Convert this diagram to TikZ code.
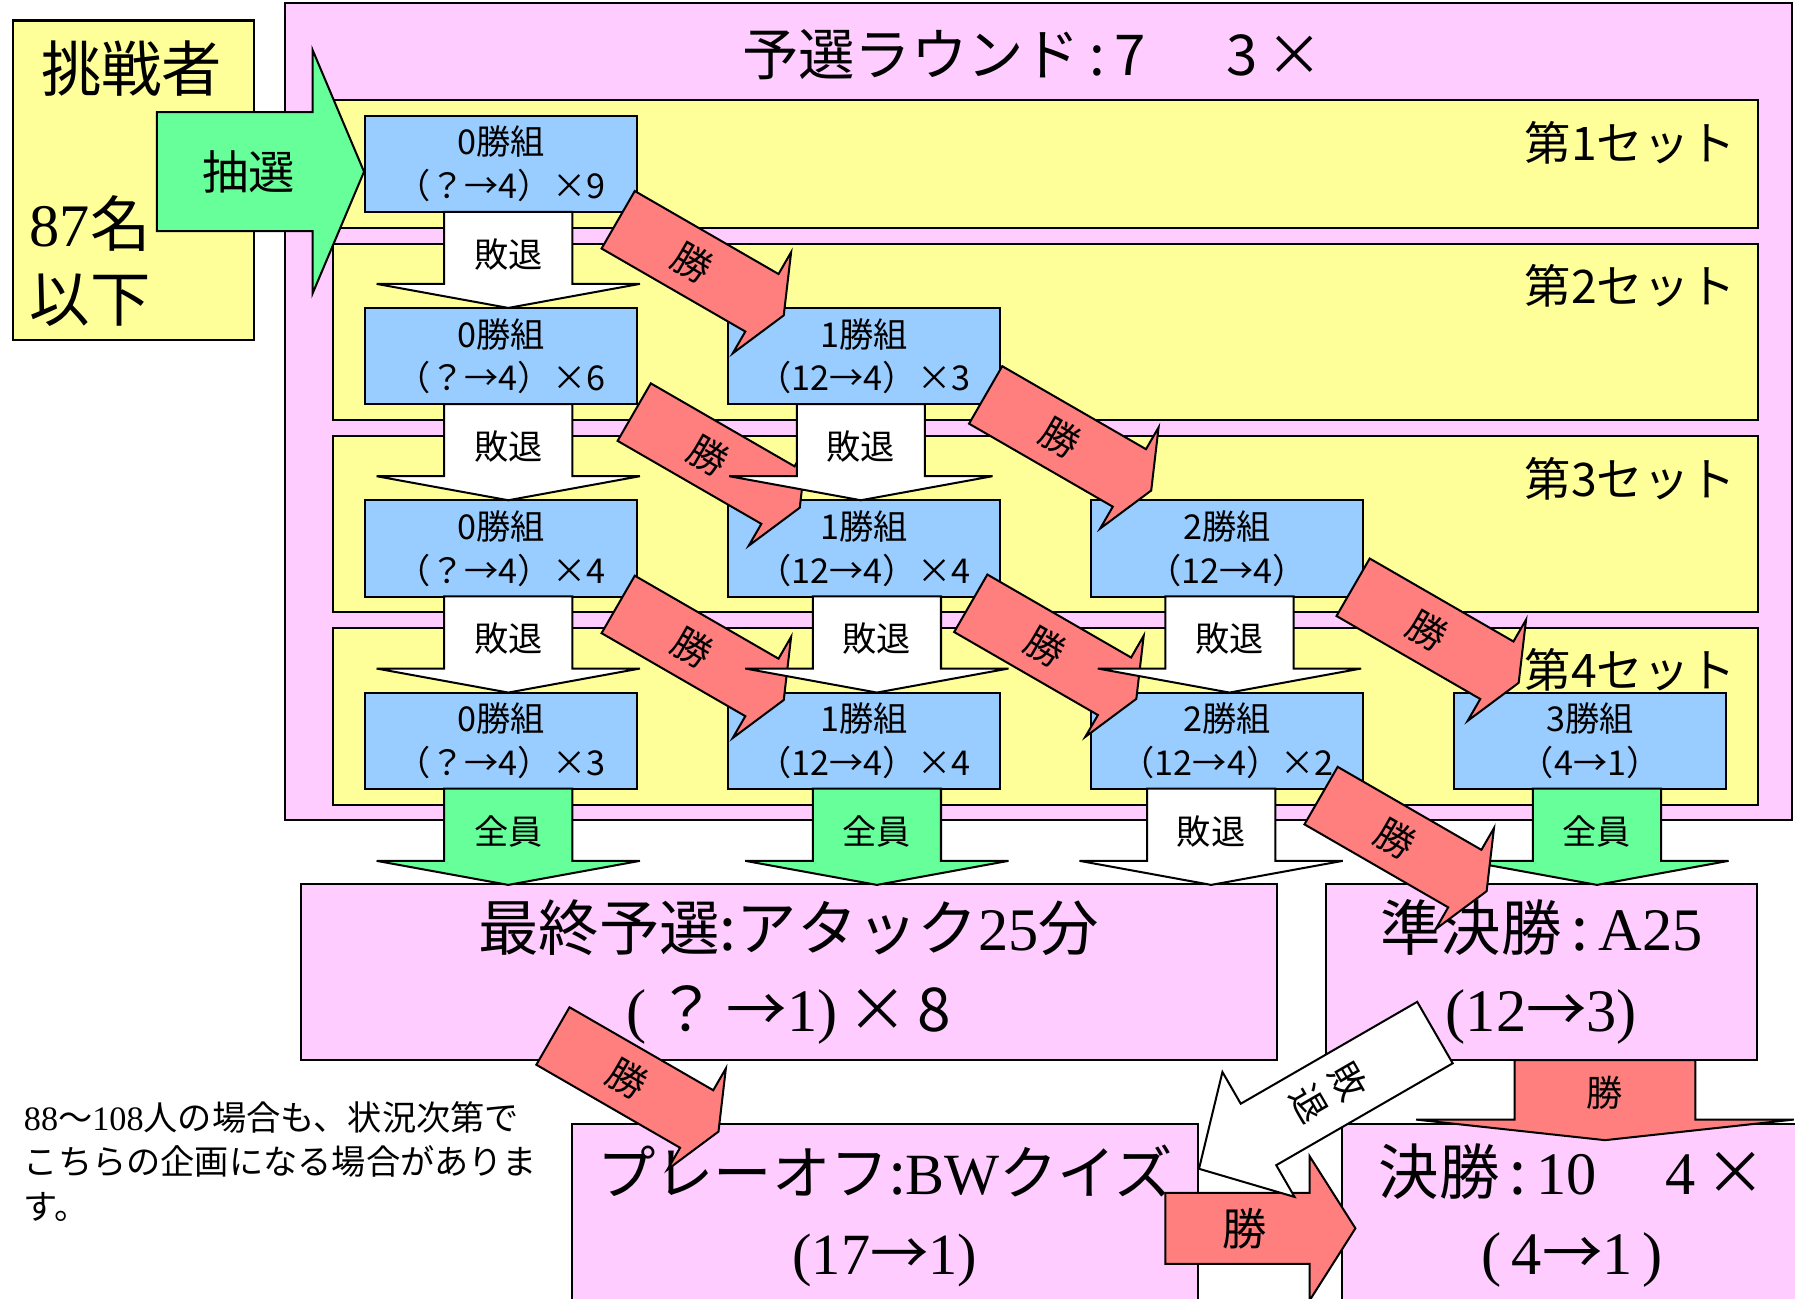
\documentclass[tikz,border=0pt]{standalone}
\usepackage{fontspec}
\setmainfont{Noto Sans CJK JP}
\newfontfamily\tm{Liberation Serif}
\usepackage{xcolor}
\usetikzlibrary{positioning}
\definecolor{roundpink}{HTML}{FFCCFF}
\definecolor{setyellow}{HTML}{FFFF99}
\definecolor{groupblue}{HTML}{99CCFF}
\definecolor{allgreen}{HTML}{66FF99}
\definecolor{winred}{HTML}{FF7F7F}
\begin{document}
\begin{tikzpicture}[x=0.01cm,y=-0.01cm,line width=0.5pt,node distance=1.68cm and 3.17cm,on grid]
 \tikzstyle{pbox}=[draw, fill=roundpink, inner sep=0pt, align=center]
 \tikzstyle{sbox}=[draw, fill=setyellow, inner sep=0pt, minimum width=12.44cm]
 \tikzstyle{grp}=[draw, fill=groupblue, inner sep=0pt, minimum width=2.37cm, minimum height=0.84cm, align=center, font=\fontsize{8.5}{10.8}\selectfont]
 \tikzstyle{lbl}=[inner sep=0pt, font=\fontsize{8.5}{10}\selectfont]
 \tikzstyle{win}=[inner sep=0pt, rotate=-30, font=\fontsize{9.5}{10}\selectfont]
 \tikzstyle{setlbl}=[inner sep=0pt, anchor=east, font=\fontsize{11.5}{14}\selectfont]
 \tikzset{pics/blockarrow/.style n args={5}{code={
   \filldraw[fill=#5] (0,-#2) -- (#1,-#2) -- (#1,-#3) -- (#1+#4,0) -- (#1,#3) -- (#1,#2) -- (0,#2) -- cycle;}}}
 \useasboundingbox (0,0) rectangle (1568,1134);

 \node[draw, fill=setyellow, minimum width=2.11cm, minimum height=2.79cm] (CH) at (116.5,157.5) {};
 \node[inner sep=0pt, font=\fontsize{15}{18}\selectfont] (CHa) at (115,60) {挑戦者};
 \node[inner sep=0pt, anchor=west, font=\fontsize{15}{18}\selectfont] (CHb) at (25,195) {{\tm 87}名};
 \node[inner sep=0pt, anchor=west, font=\fontsize{15}{18}\selectfont] (CHc) at (25,262) {以下};

 \node[pbox, minimum width=13.16cm, minimum height=7.13cm] (QR) at (907,359.5) {};
 \node[inner sep=0pt, font=\fontsize{14}{16}\selectfont] (QRt) at (902,48) {予選ラウンド\,:\,7\hspace{0.7cm}3\,×};
 \node[sbox, minimum height=1.12cm] (S1) at (913,143) {};
 \node[sbox, minimum height=1.54cm] (S2) at (913,290) {};
 \node[sbox, minimum height=1.54cm] (S3) at (913,458) {};
 \node[sbox, minimum height=1.54cm] (S4) at (913,626) {};

 \pic at (137,150) {blockarrow={136}{52}{106.5}{45}{allgreen}};
 \node[inner sep=0pt, font=\fontsize{11.5}{12}\selectfont] (LT) at (217,150) {抽選};

 \node[grp] (A0) at (437.5,143) {0勝組\\（？→4）×9};
 \node[grp] (B0) [below=of A0] {0勝組\\（？→4）×6};
 \node[grp] (B1) [right=of B0] {1勝組\\（12→4）×3};
 \node[grp] (C0) [below=of B0] {0勝組\\（？→4）×4};
 \node[grp] (C1) [right=of C0] {1勝組\\（12→4）×4};
 \node[grp] (C2) [right=of C1] {2勝組\\（12→4）};
 \node[grp] (D0) [below=of C0] {0勝組\\（？→4）×3};
 \node[grp] (D1) [right=of D0] {1勝組\\（12→4）×4};
 \node[grp] (D2) [right=of D1] {2勝組\\（12→4）×2};
 \node[grp] (D3) [right=of D2] {3勝組\\（4→1）};

 \node[pbox, minimum width=8.52cm, minimum height=1.54cm, font=\fontsize{15}{20}\selectfont] (FQ) at (689,849) {最終予選:アタック{\tm 25}分\\{\tm (}\,？\,→{\tm 1)}\,×\,8};
 \node[pbox, minimum width=3.77cm, minimum height=1.54cm, font=\fontsize{15}{20}\selectfont] (SF) at (1346.5,849) {準決勝\,:\,{\tm A25}\\{\tm (12}→{\tm 3)}};
 \node[pbox, minimum width=5.46cm, minimum height=1.6cm, font=\fontsize{14.5}{20}\selectfont] (PO) at (773,1062) {プレーオフ:{\tm BW}クイズ\\{\tm (17}→{\tm 1)}};
 \node[pbox, minimum width=4.03cm, minimum height=1.6cm, font=\fontsize{15}{20}\selectfont] (FN) at (1373.5,1062) {決勝\,:\,{\tm 10}\hspace{0.6cm}{\tm 4}\,×\\{\tm (\,4}→{\tm 1\,)}};

 \pic[rotate=-30] at (540,192) {blockarrow={145}{29}{51}{22}{winred}};
 \node[win] (Wa) at (605,229.5) {勝};
 \pic[rotate=-30] at (554,360) {blockarrow={145}{29}{51}{22}{winred}};
 \node[win] (Wb) at (619,397.5) {勝};
 \pic[rotate=-30] at (540,528) {blockarrow={145}{29}{51}{22}{winred}};
 \node[win] (Wc) at (605,565.5) {勝};
 \pic[rotate=-30] at (861,345) {blockarrow={145}{29}{51}{22}{winred}};
 \node[win] (Wd) at (926,382.5) {勝};
 \pic[rotate=-30] at (848,527) {blockarrow={145}{29}{51}{22}{winred}};
 \node[win] (We) at (913,564.5) {勝};
 \pic[rotate=-30] at (1182,513) {blockarrow={145}{29}{51}{22}{winred}};
 \node[win] (Wf) at (1247,550.5) {勝};

 \node[setlbl] (S1t) at (1517,125) {第1セット};
 \node[setlbl] (S2t) at (1517,250) {第2セット};
 \node[setlbl] (S3t) at (1517,418) {第3セット};
 \node[setlbl] (S4t) at (1517,585) {第4セット};

 \pic[rotate=-90] at (444,185) {blockarrow={63}{56}{115}{21}{white}};
 \node[lbl] (L1) at (444,222) {敗退};
 \pic[rotate=-90] at (444,353) {blockarrow={63}{56}{115}{21}{white}};
 \node[lbl] (L2) at (444,390) {敗退};
 \pic[rotate=-90] at (752,353) {blockarrow={63}{56}{115}{21}{white}};
 \node[lbl] (L3) at (752,390) {敗退};
 \pic[rotate=-90] at (444,521) {blockarrow={63}{56}{115}{21}{white}};
 \node[lbl] (L4) at (444,558) {敗退};
 \pic[rotate=-90] at (766,521) {blockarrow={63}{56}{115}{21}{white}};
 \node[lbl] (L5) at (766,558) {敗退};
 \pic[rotate=-90] at (1074,521) {blockarrow={63}{56}{115}{21}{white}};
 \node[lbl] (L6) at (1074,558) {敗退};
 \pic[rotate=-90] at (444,689) {blockarrow={63}{56}{115}{21}{allgreen}};
 \node[lbl] (L7) at (444,726) {全員};
 \pic[rotate=-90] at (766,689) {blockarrow={63}{56}{115}{21}{allgreen}};
 \node[lbl] (L8) at (766,726) {全員};
 \pic[rotate=-90] at (1058,689) {blockarrow={63}{56}{115}{21}{white}};
 \node[lbl] (L9) at (1058,726) {敗退};
 \pic[rotate=-90] at (1395,689) {blockarrow={63}{56}{115}{21}{allgreen}};
 \node[lbl] (L10) at (1395,726) {全員};

 \pic[rotate=-30] at (1154,695) {blockarrow={145}{29}{51}{22}{winred}};
 \node[win] (Wg) at (1219,732.5) {勝};
 \pic[rotate=-30] at (483,905) {blockarrow={145}{29}{51}{22}{winred}};
 \node[win] (Wh) at (548,942.5) {勝};

 \pic[rotate=-90] at (1402,926) {blockarrow={52}{79}{165}{18}{winred}};
 \node[inner sep=0pt, font=\fontsize{9}{10}\selectfont] (Wi) at (1402,955) {勝};
 \pic at (1018,1073) {blockarrow={126}{31}{63}{40}{winred}};
 \node[inner sep=0pt, font=\fontsize{11}{12}\selectfont] (Wj) at (1087,1073) {勝};
 \pic[rotate=210] at (1253.5,902) {blockarrow={178}{31}{63}{60}{white}};
 \node[inner sep=0pt, rotate=-60, align=center, font=\fontsize{9}{11}\selectfont] (Lk) at (1161,954) {敗\\退};

 \node[anchor=north west, align=left, inner sep=0pt, font=\fontsize{8.5}{11.1}\selectfont] (NT) at (20,961) {{\tm 88}～{\tm 108}人の場合も、状況次第で\\こちらの企画になる場合がありま\\す。};
\end{tikzpicture}
\end{document}
